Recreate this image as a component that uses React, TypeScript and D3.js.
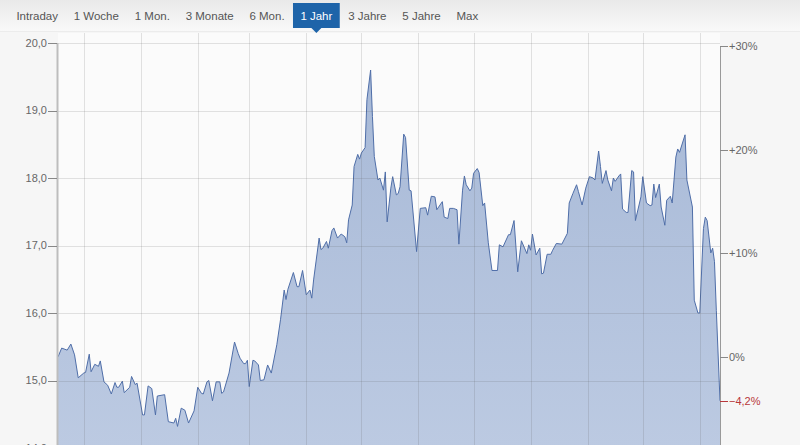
import React from "react";
import * as d3 from "d3";

// ---- data ----
const startDate = new Date(2012, 10, 17);
const periodDays = 360;

const dayOffsets = [
  0, 2, 5, 7, 9, 11, 14, 15, 17, 18, 20, 22, 23, 25, 27, 29, 31, 32, 33, 35,
  36, 39, 40, 42, 43, 46, 47, 49, 51, 53, 54, 58, 60, 63, 64, 65, 67, 69, 71, 74,
  76, 78, 79, 81, 82, 84, 86, 88, 89, 90, 93, 96, 98, 99, 101, 102, 103, 104, 106, 107,
  109, 110, 112, 114, 116, 119, 121, 123, 124, 125, 128, 130, 131, 133, 135, 137, 138, 139, 142, 143,
  144, 146, 147, 149, 150, 152, 154, 156, 157, 158, 160, 161, 163, 164, 165, 167, 168, 170, 171, 172,
  174, 175, 177, 178, 179, 181, 182, 184, 185, 186, 188, 189, 191, 192, 195, 197, 200, 201, 203, 205,
  206, 207, 209, 210, 212, 213, 215, 217, 218, 220, 221, 222, 224, 225, 226, 228, 229, 231, 232, 234,
  236, 239, 240, 242, 245, 246, 248, 250, 252, 255, 256, 257, 258, 260, 262, 263, 264, 266, 268, 269,
  271, 274, 277, 278, 280, 282, 283, 285, 287, 289, 291, 292, 294, 295, 296, 298, 299, 301, 302, 303,
  305, 306, 307, 309, 310, 312, 313, 314, 317, 318, 320, 322, 323, 324, 325, 327, 328, 330, 331, 333,
  334, 336, 337, 338, 341, 342, 345, 346, 348, 349, 351, 352, 353, 355, 356, 357, 358, 360,
];

const prices = [
  15.35, 15.48, 15.45, 15.54, 15.38, 15.04, 15.11, 15.12, 15.39, 15.13, 15.24, 15.21, 15.29, 14.98, 14.93, 14.8, 14.97, 14.9, 14.9, 14.99,
  14.82, 14.9, 15.06, 14.94, 14.96, 14.49, 14.49, 14.92, 14.88, 14.49, 14.77, 14.79, 14.39, 14.37, 14.44, 14.32, 14.59, 14.56, 14.37, 14.55,
  14.9, 14.81, 14.8, 14.98, 15.0, 14.7, 14.98, 14.98, 14.81, 14.83, 15.11, 15.57, 15.4, 15.33, 15.25, 15.25, 15.3, 14.91, 15.3, 15.29,
  15.23, 15.0, 15.01, 15.23, 15.11, 15.53, 15.9, 16.34, 16.2, 16.35, 16.6, 16.39, 16.39, 16.63, 16.27, 16.34, 16.22, 16.49, 17.11, 16.94,
  16.96, 17.06, 16.96, 17.22, 17.26, 17.11, 17.17, 17.13, 17.04, 17.38, 17.6, 18.17, 18.35, 18.28, 18.37, 18.45, 19.16, 19.6, 18.91, 18.32,
  17.97, 18.0, 17.82, 18.09, 17.35, 17.85, 18.02, 17.75, 17.77, 17.87, 18.65, 18.6, 17.82, 17.81, 16.91, 17.55, 17.56, 17.45, 17.73, 17.72,
  17.53, 17.57, 17.65, 17.42, 17.4, 17.55, 17.55, 17.53, 17.02, 17.82, 18.03, 17.9, 17.81, 17.85, 18.07, 18.14, 18.08, 17.59, 17.63, 17.04,
  16.63, 16.63, 17.01, 16.98, 17.16, 17.16, 17.37, 16.61, 17.07, 16.88, 17.01, 16.93, 17.17, 16.86, 16.96, 16.58, 16.59, 16.87, 16.87, 16.93,
  17.03, 17.02, 17.18, 17.63, 17.77, 17.9, 17.8, 17.6, 17.85, 18.02, 18.0, 17.97, 18.4, 18.17, 17.92, 18.11, 17.97, 17.81, 18.0, 17.95,
  18.03, 18.06, 17.54, 17.49, 17.49, 18.11, 18.09, 17.37, 17.72, 18.02, 17.63, 17.59, 17.6, 17.91, 17.71, 17.91, 17.57, 17.3, 17.67, 17.73,
  17.63, 18.31, 18.43, 18.38, 18.64, 17.97, 17.57, 16.19, 16.0, 16.0, 17.25, 17.42, 17.37, 16.89, 16.96, 16.76, 16.04, 14.7,
];

const tabLabels = ["Intraday", "1 Woche", "1 Mon.", "3 Monate", "6 Mon.", "1 Jahr", "3 Jahre", "5 Jahre", "Max"];
const selectedTab = "1 Jahr";
const priceTicks = [14, 15, 16, 17, 18, 19, 20];
const percentTicks = [0.3, 0.2, 0.1, 0];

// ---- layout ----
const W = 800;
const H = 445;
const plotLeft = 58;
const plotRight = 720;
const plotTop = 33;
const FONT = '"Liberation Sans", Arial, Helvetica, sans-serif';

const fmtPrice = (v: number) => d3.format(".1f")(v).replace(".", ",");
const fmtPct = (v: number) => (v === 0 ? "0%" : d3.format("+.0%")(v));

function measure(text: string, size: number) {
  if (typeof document === "undefined") return text.length * size * 0.5;
  const c = document.createElement("canvas").getContext("2d");
  if (!c) return text.length * size * 0.5;
  c.font = `${size}px ${FONT}`;
  return c.measureText(text).width;
}

export default function App() {
  const dates = dayOffsets.map((d) => d3.timeDay.offset(startDate, d));
  const endDate = d3.timeDay.offset(startDate, periodDays);
  const data = dates.map((d, i) => ({ date: d, value: prices[i] }));

  const x = d3.scaleTime().domain([startDate, endDate]).range([plotLeft, plotRight]);
  const y = d3.scaleLinear().domain([14, 20]).range([448, 43]);

  const base = prices[0];
  const last = prices[prices.length - 1];
  const lastPct = last / base - 1;

  const area = d3
    .area<{ date: Date; value: number }>()
    .x((d) => x(d.date))
    .y0(H + 20)
    .y1((d) => y(d.value));
  const line = d3
    .line<{ date: Date; value: number }>()
    .x((d) => x(d.date))
    .y((d) => y(d.value));

  const monthStarts = d3.timeMonth.range(d3.timeDay.offset(startDate, 1), endDate);

  // tabs layout
  const tabFont = 11.5;
  const pad = 7.4;
  let cursor = 9;
  const tabs = tabLabels.map((t) => {
    const w = measure(t, tabFont);
    const tab = { label: t, x0: cursor, x1: cursor + pad * 2 + w };
    cursor = tab.x1 + 1;
    return tab;
  });

  const red = "#b8383b";
  const axisColor = "#666";

  return (
    <div style={{ width: W, height: H, overflow: "hidden" }}>
      <style>{`body{margin:0;background:#fff}`}</style>
      <svg width={W} height={H} style={{ display: "block", fontFamily: FONT }}>
        <defs>
          <linearGradient id="bar" x1="0" y1="0" x2="0" y2="1">
            <stop offset="0" stopColor="#e9e9e9" />
            <stop offset="1" stopColor="#f9f9f9" />
          </linearGradient>
          <linearGradient id="fill" gradientUnits="userSpaceOnUse" x1={0} y1={y(20)} x2={0} y2={y(14)}>
            <stop offset="0" stopColor="#a6b8d6" />
            <stop offset="1" stopColor="#bccae2" />
          </linearGradient>
          <clipPath id="plotClip">
            <rect x={plotLeft} y={0} width={plotRight - plotLeft} height={H + 20} />
          </clipPath>
        </defs>

        {/* page background */}
        <rect x={0} y={0} width={W} height={H} fill="#f6f6f6" />
        <rect x={plotLeft} y={plotTop} width={plotRight - plotLeft} height={H - plotTop} fill="#fbfbfb" />

        {/* tab bar */}
        <rect x={0} y={0} width={W} height={31} fill="url(#bar)" />
        <line x1={0} x2={W} y1={31.5} y2={31.5} stroke="#ececec" />
        {tabs.map((t) =>
          t.label === selectedTab ? (
            <g key={t.label}>
              <rect x={t.x0} y={3} width={t.x1 - t.x0} height={25} fill="#1e64a9" />
              <path
                d={`M${(t.x0 + t.x1) / 2 - 5},28 L${(t.x0 + t.x1) / 2 + 5},28 L${(t.x0 + t.x1) / 2},33 Z`}
                fill="#1e64a9"
              />
              <text x={(t.x0 + t.x1) / 2} y={20} textAnchor="middle" fontSize={tabFont} fill="#fff">
                {t.label}
              </text>
            </g>
          ) : (
            <text key={t.label} x={(t.x0 + t.x1) / 2} y={20} textAnchor="middle" fontSize={tabFont} fill="#555">
              {t.label}
            </text>
          )
        )}

        {/* area + line */}
        <g clipPath="url(#plotClip)">
          <path d={area(data) || ""} fill="url(#fill)" />
          <path d={line(data) || ""} fill="none" stroke="#4f6ea8" strokeWidth={1} />
        </g>

        {/* grid lines on top (semi-transparent) */}
        {priceTicks.map((t) => (
          <line key={"h" + t} x1={plotLeft} x2={plotRight} y1={Math.round(y(t)) + 0.5} y2={Math.round(y(t)) + 0.5}
            stroke="rgb(90,90,90)" strokeOpacity={0.16} />
        ))}
        {monthStarts.map((m) => (
          <line key={"v" + m.getTime()} x1={Math.round(x(m)) + 0.5} x2={Math.round(x(m)) + 0.5} y1={plotTop} y2={H}
            stroke="rgb(90,90,90)" strokeOpacity={0.16} />
        ))}

        {/* left axis */}
        <line x1={plotLeft - 0.5} x2={plotLeft - 0.5} y1={y(20)} y2={H} stroke="#bdbdbd" strokeWidth={2} />
        {priceTicks.map((t) => (
          <g key={"l" + t}>
            <line x1={plotLeft - 10} x2={plotLeft - 1} y1={Math.round(y(t)) + 0.5} y2={Math.round(y(t)) + 0.5} stroke="#888" />
            <text x={plotLeft - 11} y={y(t)} dy="0.35em" textAnchor="end" fontSize={11} fill={axisColor}>
              {fmtPrice(t)}
            </text>
          </g>
        ))}

        {/* right axis */}
        <line x1={plotRight + 0.5} x2={plotRight + 0.5} y1={y(base * 1.3)} y2={H} stroke="#999" />
        {percentTicks.map((p) => (
          <g key={"r" + p}>
            <line x1={plotRight} x2={plotRight + 8} y1={Math.round(y(base * (1 + p))) + 0.5} y2={Math.round(y(base * (1 + p))) + 0.5} stroke="#888" />
            <text x={plotRight + 9} y={y(base * (1 + p))} dy="0.35em" fontSize={11} fill={axisColor}>
              {fmtPct(p)}
            </text>
          </g>
        ))}
        <line x1={plotRight} x2={plotRight + 8} y1={Math.round(y(last)) + 0.5} y2={Math.round(y(last)) + 0.5} stroke={red} />
        <text x={plotRight + 9} y={y(last)} dy="0.35em" fontSize={11} fill={red}>
          {d3.format(".1f")(lastPct * 100).replace(".", ",") + "%"}
        </text>
      </svg>
    </div>
  );
}
